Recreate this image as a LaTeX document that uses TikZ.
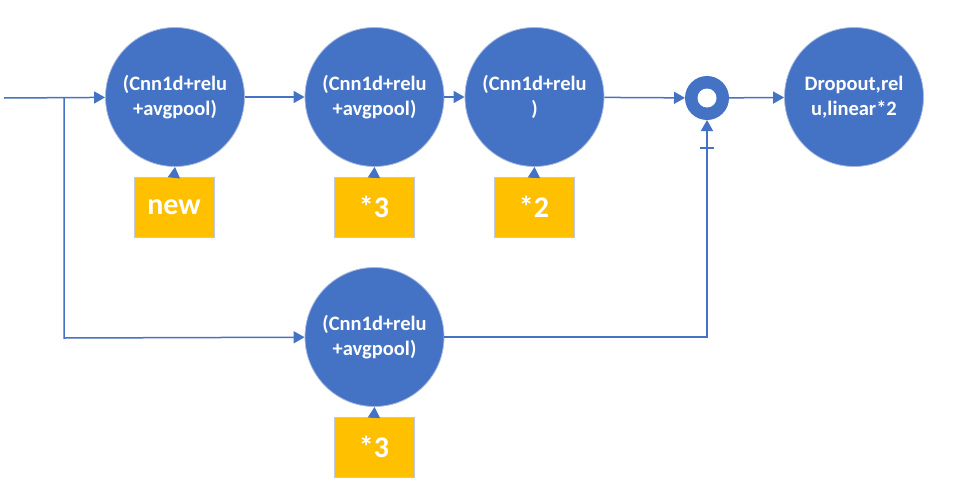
\documentclass[tikz,border=0pt]{standalone}
\usepackage{fontspec}
\setmainfont{Carlito}
\usetikzlibrary{arrows.meta}

\definecolor{netblue}{RGB}{68,114,196}
\definecolor{rimblue}{RGB}{170,186,222}
\definecolor{boxgold}{RGB}{255,192,0}
\definecolor{rimgold}{RGB}{190,200,225}

\tikzset{
  layer/.style={circle, fill=netblue, draw=rimblue, line width=0.8pt,
    minimum size=139pt, inner sep=0pt, align=center, text=white,
    font=\fontsize{20.5}{25}\selectfont\bfseries},
  rep/.style={rectangle, fill=boxgold, draw=rimgold, line width=0.8pt,
    minimum width=80pt, minimum height=60pt, text=white,
    font=\fontsize{30}{34}\selectfont\bfseries},
  sum/.style={circle, fill=netblue, minimum size=44pt, inner sep=0pt, outer sep=0pt,
    path picture={\fill[white] (path picture bounding box.center) circle (9.5pt);}},
  flow/.style={draw=netblue, line width=1.5pt, -{Triangle[length=11pt,width=12pt]}},
  wire/.style={draw=netblue, line width=2.5pt}
}

\begin{document}
\begin{tikzpicture}[x=1pt, y=-1pt]
  \useasboundingbox (0,0) rectangle (953,498);

  % main branch
  \coordinate (in) at (4,98);
  \coordinate (split) at (64,98);
  \node[layer] (conv1) at (175,97) {(Cnn1d+relu\\+avgpool)};
  \node[layer] (conv2) at (374.5,97) {(Cnn1d+relu\\+avgpool)};
  \node[layer] (conv3) at (534.5,97) {(Cnn1d+relu\\)};
  \node[sum] (add) at (707,98) {};
  \node[layer] (head) at (854,97) {Dropout,rel\\u,linear*2};

  % side branch
  \node[layer] (conv4) at (374.5,337) {(Cnn1d+relu\\+avgpool)};
  \coordinate (down) at (64,338);

  % repeat boxes
  \node[rep] (new) at (174,207) {new};
  \node[rep] (times3) at (374,207) {*3};
  \node[rep] (times2) at (534,207) {*2};
  \node[rep] (times3b) at (374,447) {*3};

  \draw[flow] (in) -- (conv1);
  \draw[flow] (conv1) -- (conv2);
  \draw[flow] (conv2) -- (conv3);
  \draw[flow] (conv3) -- (add);
  \draw[flow] (add) -- (head);
  \draw[flow] (split) -- (down) -- (conv4);
  \draw[flow] (conv4.east) -| (add.south);
  \draw[wire] (add.south) ++(-7,28) -- ++(14,0);

  \foreach \b/\c in {new/conv1, times3/conv2, times2/conv3, times3b/conv4}
    \draw[flow] (\b.north) -- (\c.south);
\end{tikzpicture}
\end{document}
